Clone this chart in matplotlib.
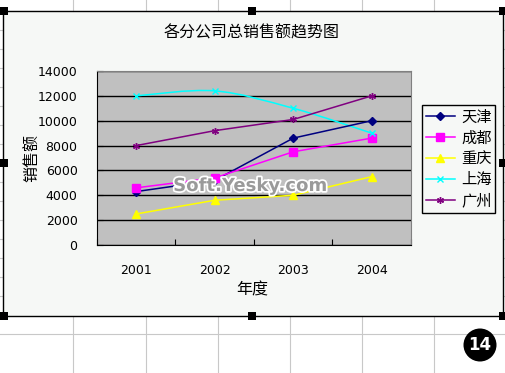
import numpy as np
import matplotlib
matplotlib.use('Agg')
import matplotlib.pyplot as plt
from matplotlib.path import Path
from matplotlib.patches import PathPatch, Rectangle, Circle
from matplotlib.lines import Line2D
import matplotlib.patheffects as pe

plt.rcParams['font.family'] = ['Noto Sans CJK SC', 'DejaVu Sans']

# data
years = ['2001', '2002', '2003', '2004']
tianjin = [4300, 5200, 8600, 10000]
chengdu = [4600, 5400, 7500, 8600]
chongqing = [2500, 3600, 4000, 5500]
shanghai = [12000, 12400, 11000, 9000]
guangzhou = [8000, 9200, 10100, 12000]
names = ['天津', '成都', '重庆', '上海', '广州']
yticks = [0, 2000, 4000, 6000, 8000, 10000, 12000, 14000]

W, H = 506, 373
fig = plt.figure(figsize=(W / 100, H / 100), dpi=100)
fig.patch.set_facecolor('white')


def fx(px):
    return px / W


def fy(py):
    return 1 - py / H


# spreadsheet grid behind the chart
for xx in [73, 145.7, 217.7, 289.7, 361.7, 433.7]:
    fig.add_artist(Line2D([fx(xx), fx(xx)], [0, 1], color='#c8c8c8', lw=0.8, zorder=0))
for k in range(0, 19):
    yy = 334.3 - 19 * k
    fig.add_artist(Line2D([0, 1], [fy(yy), fy(yy)], color='#c8c8c8', lw=0.8, zorder=0))

# chart area
fig.add_artist(Rectangle((fx(3.5), fy(316)), fx(503) - fx(3.5), fy(10.7) - fy(316),
                         facecolor='#f6f8f6', edgecolor='black', lw=1, zorder=1))
for hx in [4, 252, 503]:
    for hy in [11, 316]:
        fig.add_artist(Rectangle((fx(hx - 4), fy(hy + 4)), 8 / W, 8 / H,
                                 facecolor='black', edgecolor='none', zorder=2))
for hx in [4, 503]:
    fig.add_artist(Rectangle((fx(hx - 4), fy(163 + 4)), 8 / W, 8 / H,
                             facecolor='black', edgecolor='none', zorder=2))

ax = fig.add_axes([fx(97), fy(245), fx(411) - fx(97), fy(71) - fy(245)])
ax.set_facecolor('#c0c0c0')
ax.set_zorder(3)

x = np.arange(len(years))


def smooth_patch(xs, ys, color):
    pts = np.column_stack([xs, ys]).astype(float)
    n = len(pts)
    verts = [pts[0]]
    codes = [Path.MOVETO]
    for i in range(n - 1):
        p0 = pts[i - 1] if i > 0 else pts[i]
        p3 = pts[i + 2] if i + 2 < n else pts[i + 1]
        c1 = pts[i] + (pts[i + 1] - p0) / 6
        c2 = pts[i + 1] - (p3 - pts[i]) / 6
        verts += [c1, c2, pts[i + 1]]
        codes += [Path.CURVE4] * 3
    return PathPatch(Path(verts, codes), facecolor='none', edgecolor=color, lw=1.1)


series = [
    (tianjin, '#000080', 'D', 4.5, False),
    (chengdu, '#ff00ff', 's', 5.5, False),
    (chongqing, '#ffff00', '^', 6, False),
    (shanghai, '#00ffff', 'x', 4, True),
    (guangzhou, '#800080', (6, 2, 0), 5, False),
]
handles = []
for (vals, c, m, ms, sm), name in zip(series, names):
    if sm:
        ax.add_patch(smooth_patch(x, vals, c))
        ax.plot(x, vals, linestyle='none', marker=m, ms=ms, color=c, mew=1)
    else:
        ax.plot(x, vals, color=c, lw=1.1, marker=m, ms=ms, mew=1)
    handles.append(Line2D([], [], color=c, lw=1.1, marker=m, ms=ms, mew=1))

ax.set_xlim(-0.5, len(years) - 0.5)
ax.set_ylim(0, 14000)
ax.set_yticks(yticks)
ax.set_yticklabels([str(v) for v in yticks], family='DejaVu Sans', fontsize=9)
ax.yaxis.grid(True, color='black', lw=1)
ax.set_axisbelow(True)
ax.set_xticks(np.arange(len(years) + 1) - 0.5, minor=False)
ax.set_xticklabels([])
ax.set_xticks(x, minor=True)
ax.set_xticklabels(years, minor=True, family='DejaVu Sans', fontsize=9)
ax.tick_params(axis='x', which='major', direction='in', length=4, color='black')
ax.tick_params(axis='x', which='minor', length=0, pad=14)
ax.tick_params(axis='y', direction='in', length=4, pad=14)
for s in ['top', 'right']:
    ax.spines[s].set_color('#808080')
for s in ['left', 'bottom']:
    ax.spines[s].set_color('black')

fig.text(fx(252), fy(33), '各分公司总销售额趋势图', ha='center', va='center', fontsize=11.5)
fig.text(fx(252), fy(290), '年度', ha='center', va='center', fontsize=11.5)
fig.text(fx(33), fy(158), '销售额', ha='center', va='center', fontsize=11.5, rotation=90)

leg = fig.legend(handles, names, loc='upper left',
                 bbox_to_anchor=(fx(422), fy(105)), fontsize=11,
                 frameon=True, fancybox=False, facecolor='#f6f8f6',
                 edgecolor='black', framealpha=1, handlelength=1.9,
                 labelspacing=0.25, borderpad=0.25, handletextpad=0.4,
                 borderaxespad=0)
leg.get_frame().set_linewidth(1)
leg.set_zorder(4)

# watermark
fig.text(fx(250), fy(186), 'Soft.Yesky.com', ha='center', va='center', fontsize=13,
         fontweight='bold', family='DejaVu Sans', color='#9a9a9a', zorder=5,
         path_effects=[pe.withStroke(linewidth=2.5, foreground='white')])

# page badge
fig.add_artist(Circle((4.80, (H - 345) / 100), 0.165, transform=fig.dpi_scale_trans,
                      facecolor='black', edgecolor='none', zorder=5))
fig.text(fx(480), fy(345), '14', ha='center', va='center', fontsize=12,
         fontweight='bold', color='white', family='DejaVu Sans', zorder=6)

fig.savefig('out.png', dpi=100)
